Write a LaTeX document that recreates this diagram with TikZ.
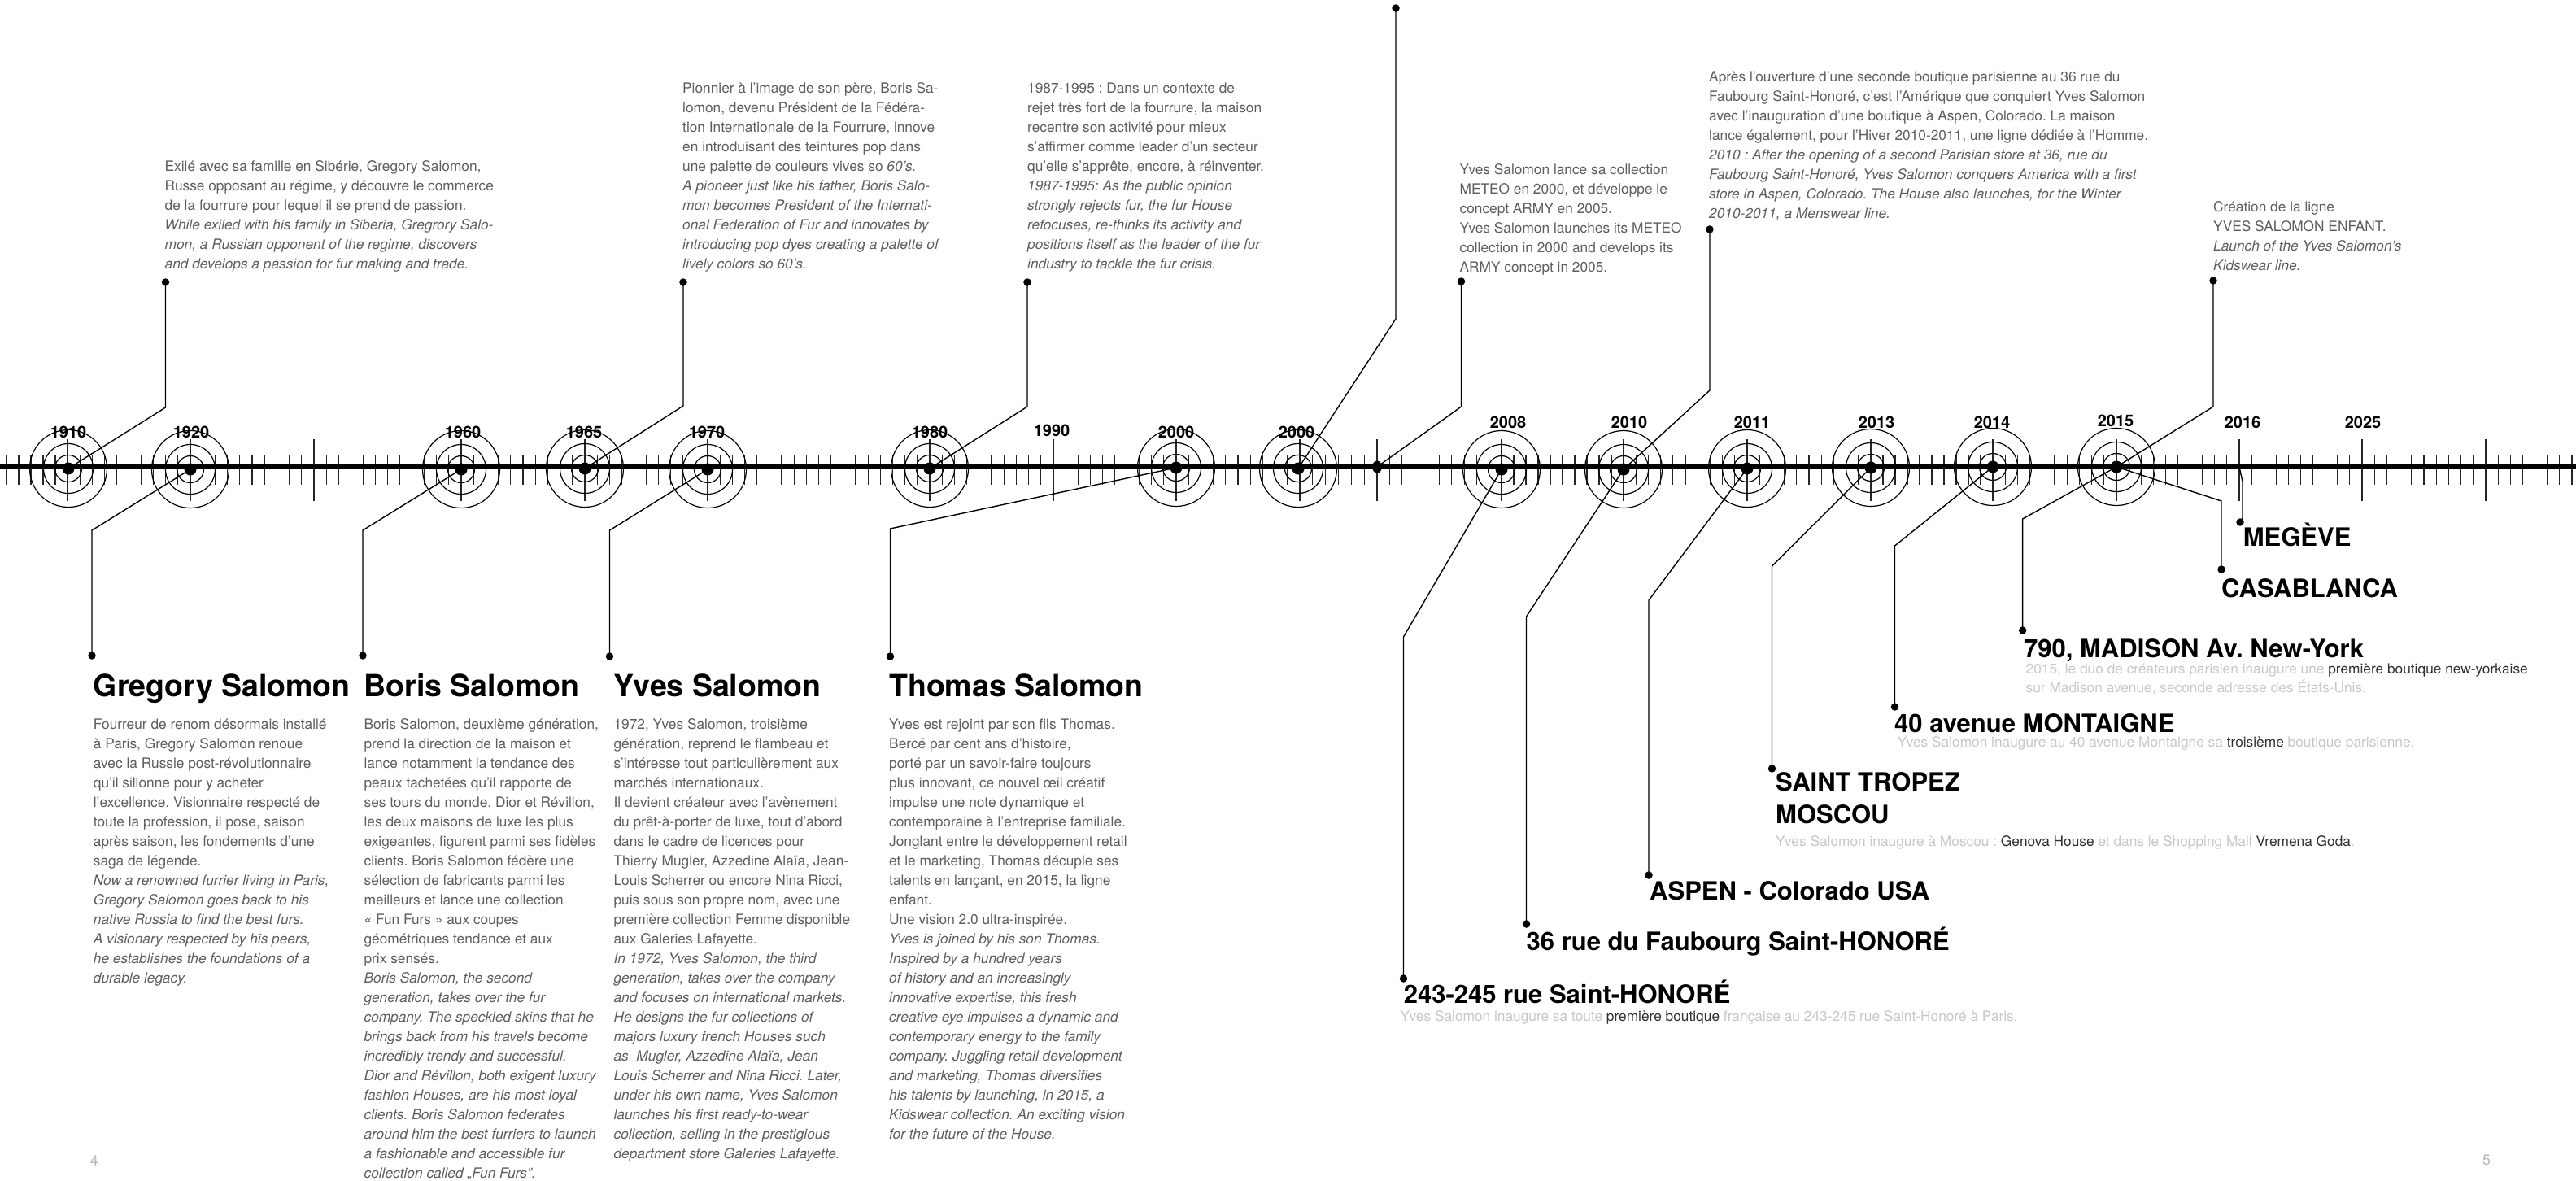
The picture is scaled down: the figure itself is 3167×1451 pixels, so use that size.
\documentclass[tikz,border=0pt]{standalone}
\usepackage{fontspec}
\setmainfont{TeX Gyre Heros}
\frenchspacing
\definecolor{bodycol}{HTML}{5E5E5E}
\definecolor{desccol}{HTML}{C8C8C8}
\definecolor{darkcol}{HTML}{303030}
\definecolor{pagecol}{HTML}{B8B8B8}
\newcommand{\bodyf}{\fontsize{17.3}{24}\selectfont}
\newcommand{\ital}[1]{\textit{#1}}
\newcommand{\dk}[1]{\textcolor{darkcol}{#1}}
\tikzset{
  bodytext/.style={anchor=north west,inner sep=0pt,align=left,font=\bodyf,text=bodycol},
  desctext/.style={anchor=base west,inner sep=0pt,font=\bodyf,text=desccol},
  deschead/.style={anchor=base west,inner sep=0pt,font=\fontsize{31}{36}\selectfont\bfseries,text=black},
  bighead/.style={anchor=base west,inner sep=0pt,font=\fontsize{37.5}{44}\selectfont\bfseries,text=black},
  yearlabel/.style={inner sep=0pt,font=\fontsize{20}{24}\selectfont\bfseries,text=black},
  pagenum/.style={inner sep=0pt,font=\fontsize{18}{22}\selectfont,text=pagecol},
  enddot/.style={circle,fill=black,inner sep=0pt,minimum size=9.5pt},
  tgtdot/.style={circle,fill=black,inner sep=0pt,minimum size=15pt},
  smalldot/.style={ellipse,fill=black,inner sep=0pt,minimum width=12pt,minimum height=15pt},
  conn/.style={draw=black,line width=1.4pt},
  ring/.style={draw=black,line width=1.2pt},
  tick/.style={draw=black!85,line width=1.1pt}
}
\usetikzlibrary{shapes.geometric}
\begin{document}
\begin{tikzpicture}[x=1pt,y=-1pt]
\useasboundingbox[fill=white] (0,0) rectangle (3167,1451);
% small ticks
\foreach \a/\b/\n/\m in {8/83/5/4,83/234/10/9,234/386/10/9,386/567/12/11,567/719/10/9,719/870/10/9,870/1143/18/17,1143/1295/10/9,1295/1446/10/9,1446/1598/10/9,1598/1693/6/5,1693/1846/10/9,1846/1996/10/9,1996/2148/10/9,2148/2300/10/9,2300/2450/10/9,2450/2602/10/9,2602/2753/10/9,2753/2904/10/9,2904/3056/10/9,3056/3168/7.4/7}{
  \foreach \i in {0,...,\m}{
    \draw[tick] ({\a+\i*(\b-\a)/\n},559) -- ({\a+\i*(\b-\a)/\n},596);
  }
}
% large ticks
\foreach \x in {83,234,386,567,719,870,1143,1295,1446,1598,1693,1846,1996,2148,2300,2450,2602,2753,2904,3056}{
  \draw[tick] (\x,540) -- (\x,616);
}
% axis
\coordinate (axisL) at (0,574);
\coordinate (axisR) at (3167,574);
\draw[line width=5.4pt,black] (axisL) -- (axisR);
% targets
\foreach \n/\x/\y in {a/84/576,b/234/577,c/567/577,d/719/576,e/870/577,f/1143/576,g/1446/575,h/1596/576,i/1846/577,j/1996/577,k/2148/576,l/2300/575,m/2450/574,n/2602/574}{
  \node[tgtdot] (t\n) at (\x,\y) {};
  \draw[ring] (\x,\y) circle (16.5);
  \draw[ring] (\x,\y) circle (30.5);
  \draw[ring] (\x,\y) circle (47.5);
}
\node[smalldot] (tp) at (1693,574) {};
% year labels
\foreach \t/\x/\y/\nm in {1910/84/531/ya,1920/235/531/yb,1960/569/531/yc,1965/718/531/yd,1970/869/531/ye,1980/1143/531/yf,1990/1293/529/yg,2000/1446/531/yh,2000/1594/531/yi,2008/1854/519/yj,2010/2003/519/yk,2011/2154/519/yl,2013/2307/519/ym,2014/2449/519/yn,2015/2601/517/yo,2016/2757/519/yp,2025/2905/519/yq}{
  \node[yearlabel] (\nm) at (\x,\y) {\t};
}
% end dots
\node[enddot] (up1) at (203.5,347) {};
\node[enddot] (up2) at (840,347) {};
\node[enddot] (up3) at (1263,347) {};
\node[enddot] (up4) at (1716,10) {};
\node[enddot] (up5) at (1796.5,346) {};
\node[enddot] (up6) at (2102,282) {};
\node[enddot] (up7) at (2721,345) {};
\node[enddot] (dn1) at (113,806) {};
\node[enddot] (dn2) at (446,806) {};
\node[enddot] (dn3) at (749.5,807) {};
\node[enddot] (dn4) at (1094.5,807) {};
\node[enddot] (dn5) at (1725.5,1203) {};
\node[enddot] (dn6) at (1876.5,1136) {};
\node[enddot] (dn7) at (2027,1076) {};
\node[enddot] (dn8) at (2178.5,945) {};
\node[enddot] (dn9) at (2329.5,869) {};
\node[enddot] (dn10) at (2486.6,775) {};
\node[enddot] (dn11) at (2731,700) {};
\node[enddot] (dn12) at (2754,642) {};
\coordinate (meg) at (2753,574);
% connectors
\draw[conn] (up1.center) -- (203.5,501) -- (ta.center);
\draw[conn] (up2.center) -- (840,499) -- (td.center);
\draw[conn] (up3.center) -- (1263,500) -- (tf.center);
\draw[conn] (up4.center) -- (1716,392) -- (th.center);
\draw[conn] (up5.center) -- (1796.5,500) -- (tp.center);
\draw[conn] (up6.center) -- (2102,480) -- (tj.center);
\draw[conn] (up7.center) -- (2721,500) -- (tn.center);
\draw[conn] (tb.center) -- (113,652) -- (dn1.center);
\draw[conn] (tc.center) -- (446,652) -- (dn2.center);
\draw[conn] (te.center) -- (749.5,652) -- (dn3.center);
\draw[conn] (tg.center) -- (1094.5,650) -- (dn4.center);
\draw[conn] (ti.center) -- (1725.5,783) -- (dn5.center);
\draw[conn] (tj.center) -- (1876.5,758) -- (dn6.center);
\draw[conn] (tk.center) -- (2027,738) -- (dn7.center);
\draw[conn] (tl.center) -- (2178.5,696) -- (dn8.center);
\draw[conn] (tm.center) -- (2329.5,671) -- (dn9.center);
\draw[conn] (tn.center) -- (2486.6,638) -- (dn10.center);
\draw[conn] (tn.center) -- (2731,616) -- (dn11.center);
\draw[conn] (meg) -- (2757,592) -- (2757,637) -- (dn12.center);
% top texts
\node[bodytext] (note1) at (202.5,193.7) {\strut Exilé avec sa famille en Sibérie, Gregory Salomon,\\Russe opposant au régime, y découvre le commerce\\de la fourrure pour lequel il se prend de passion.\\\ital{While exiled with his family in Siberia, Gregrory Salo-}\\\ital{mon, a Russian opponent of the regime, discovers}\\\ital{and develops a passion for fur making and trade.}};
\node[bodytext] (note2) at (839,97.7) {\strut Pionnier à l’image de son père, Boris Sa-\\lomon, devenu Président de la Fédéra-\\tion Internationale de la Fourrure, innove\\en introduisant des teintures pop dans\\une palette de couleurs vives so \ital{60’s.}\\\ital{A pioneer just like his father, Boris Salo-}\\\ital{mon becomes President of the Internati-}\\\ital{onal Federation of Fur and innovates by}\\\ital{introducing pop dyes creating a palette of}\\\ital{lively colors so 60’s.}};
\node[bodytext] (note3) at (1263,97.7) {\strut 1987-1995 : Dans un contexte de\\rejet très fort de la fourrure, la maison\\recentre son activité pour mieux\\s’affirmer comme leader d’un secteur\\qu’elle s’apprête, encore, à réinventer.\\\ital{1987-1995: As the public opinion}\\\ital{strongly rejects fur, the fur House}\\\ital{refocuses, re-thinks its activity and}\\\ital{positions itself as the leader of the fur}\\\ital{industry to tackle the fur crisis.}};
\node[bodytext] (note4) at (1794.4,197.7) {\strut Yves Salomon lance sa collection\\METEO en 2000, et développe le\\concept ARMY en 2005.\\Yves Salomon launches its METEO\\collection in 2000 and develops its\\ARMY concept in 2005.};
\node[bodytext] (note5) at (2101,83.7) {\strut Après l’ouverture d’une seconde boutique parisienne au 36 rue du\\Faubourg Saint-Honoré, c’est l’Amérique que conquiert Yves Salomon\\avec l’inauguration d’une boutique à Aspen, Colorado. La maison\\lance également, pour l’Hiver 2010-2011, une ligne dédiée à l’Homme.\\\ital{2010 : After the opening of a second Parisian store at 36, rue du}\\\ital{Faubourg Saint-Honoré, Yves Salomon conquers America with a first}\\\ital{store in Aspen, Colorado. The House also launches, for the Winter}\\\ital{2010-2011, a Menswear line.}};
\node[bodytext] (note6) at (2721,243.7) {\strut Création de la ligne\\YVES SALOMON ENFANT.\\\ital{Launch of the Yves Salomon’s}\\\ital{Kidswear line.}};
% headings
\node[bighead] (h1) at (114.7,856) {Gregory Salomon};
\node[bighead] (h2) at (447.4,856) {Boris Salomon};
\node[bighead] (h3) at (754.4,856) {Yves Salomon};
\node[bighead] (h4) at (1093,856) {Thomas Salomon};
% bios
\node[bodytext] (bio1) at (114.7,879.7) {\strut Fourreur de renom désormais installé\\à Paris, Gregory Salomon renoue\\avec la Russie post-révolutionnaire\\qu’il sillonne pour y acheter\\l’excellence. Visionnaire respecté de\\toute la profession, il pose, saison\\après saison, les fondements d’une\\saga de légende.\\\ital{Now a renowned furrier living in Paris,}\\\ital{Gregory Salomon goes back to his}\\\ital{native Russia to find the best furs.}\\\ital{A visionary respected by his peers,}\\\ital{he establishes the foundations of a}\\\ital{durable legacy.}};
\node[bodytext] (bio2) at (447.4,879.7) {\strut Boris Salomon, deuxième génération,\\prend la direction de la maison et\\lance notamment la tendance des\\peaux tachetées qu’il rapporte de\\ses tours du monde. Dior et Révillon,\\les deux maisons de luxe les plus\\exigeantes, figurent parmi ses fidèles\\clients. Boris Salomon fédère une\\sélection de fabricants parmi les\\meilleurs et lance une collection\\« Fun Furs » aux coupes\\géométriques tendance et aux\\prix sensés.\\\ital{Boris Salomon, the second}\\\ital{generation, takes over the fur}\\\ital{company. The speckled skins that he}\\\ital{brings back from his travels become}\\\ital{incredibly trendy and successful.}\\\ital{Dior and Révillon, both exigent luxury}\\\ital{fashion Houses, are his most loyal}\\\ital{clients. Boris Salomon federates}\\\ital{around him the best furriers to launch}\\\ital{a fashionable and accessible fur}\\\ital{collection called „Fun Furs”.}};
\node[bodytext] (bio3) at (754.4,879.7) {\strut 1972, Yves Salomon, troisième\\génération, reprend le flambeau et\\s’intéresse tout particulièrement aux\\marchés internationaux.\\Il devient créateur avec l’avènement\\du prêt-à-porter de luxe, tout d’abord\\dans le cadre de licences pour\\Thierry Mugler, Azzedine Alaïa, Jean-\\Louis Scherrer ou encore Nina Ricci,\\puis sous son propre nom, avec une\\première collection Femme disponible\\aux Galeries Lafayette.\\\ital{In 1972, Yves Salomon, the third}\\\ital{generation, takes over the company}\\\ital{and focuses on international markets.}\\\ital{He designs the fur collections of}\\\ital{majors luxury french Houses such}\\\ital{as~ Mugler, Azzedine Alaïa, Jean}\\\ital{Louis Scherrer and Nina Ricci. Later,}\\\ital{under his own name, Yves Salomon}\\\ital{launches his first ready-to-wear}\\\ital{collection, selling in the prestigious}\\\ital{department store Galeries Lafayette.}};
\node[bodytext] (bio4) at (1093,879.7) {\strut Yves est rejoint par son fils Thomas.\\Bercé par cent ans d’histoire,\\porté par un savoir-faire toujours\\plus innovant, ce nouvel œil créatif\\impulse une note dynamique et\\contemporaine à l’entreprise familiale.\\Jonglant entre le développement retail\\et le marketing, Thomas décuple ses\\talents en lançant, en 2015, la ligne\\enfant.\\Une vision 2.0 ultra-inspirée.\\\ital{Yves is joined by his son Thomas.}\\\ital{Inspired by a hundred years}\\\ital{of history and an increasingly}\\\ital{innovative expertise, this fresh}\\\ital{creative eye impulses a dynamic and}\\\ital{contemporary energy to the family}\\\ital{company. Juggling retail development}\\\ital{and marketing, Thomas diversifies}\\\ital{his talents by launching, in 2015, a}\\\ital{Kidswear collection. An exciting vision}\\\ital{for the future of the House.}};
% location heads
\node[deschead] (p1) at (2757.6,671.7) {MEGÈVE};
\node[deschead] (p2) at (2731,734) {CASABLANCA};
\node[deschead] (p3) at (2488,808) {790, MADISON Av. New-York};
\node[deschead] (p4) at (2329,900.7) {40 avenue MONTAIGNE};
\node[deschead] (p5) at (2183,972.7) {SAINT TROPEZ};
\node[deschead] (p6) at (2183,1012.7) {MOSCOU};
\node[deschead] (p7) at (2028,1106.7) {ASPEN - Colorado USA};
\node[deschead] (p8) at (1876.5,1168) {36 rue du Faubourg Saint-HONORÉ};
\node[deschead] (p9) at (1725.6,1233) {243-245 rue Saint-HONORÉ};
% location descriptions
\node[desctext] (q1) at (2490.5,828.2) {2015, le duo de créateurs parisien inaugure une \dk{première boutique new-yorkaise}};
\node[desctext] (q2) at (2490.5,851.5) {sur Madison avenue, seconde adresse des États-Unis.};
\node[desctext] (q3) at (2332.6,918.5) {Yves Salomon inaugure au 40 avenue Montaigne sa \dk{troisième} boutique parisienne.};
\node[desctext] (q4) at (2183,1040.5) {Yves Salomon inaugure à Moscou : \dk{Genova House} et dans le Shopping Mall \dk{Vremena Goda}.};
\node[desctext] (q5) at (1721.5,1255.5) {Yves Salomon inaugure sa toute \dk{première boutique} française au 243-245 rue Saint-Honoré à Paris.};
% page numbers
\node[pagenum] (pg4) at (116,1427) {4};
\node[pagenum] (pg5) at (3057,1426) {5};
\end{tikzpicture}
\end{document}
